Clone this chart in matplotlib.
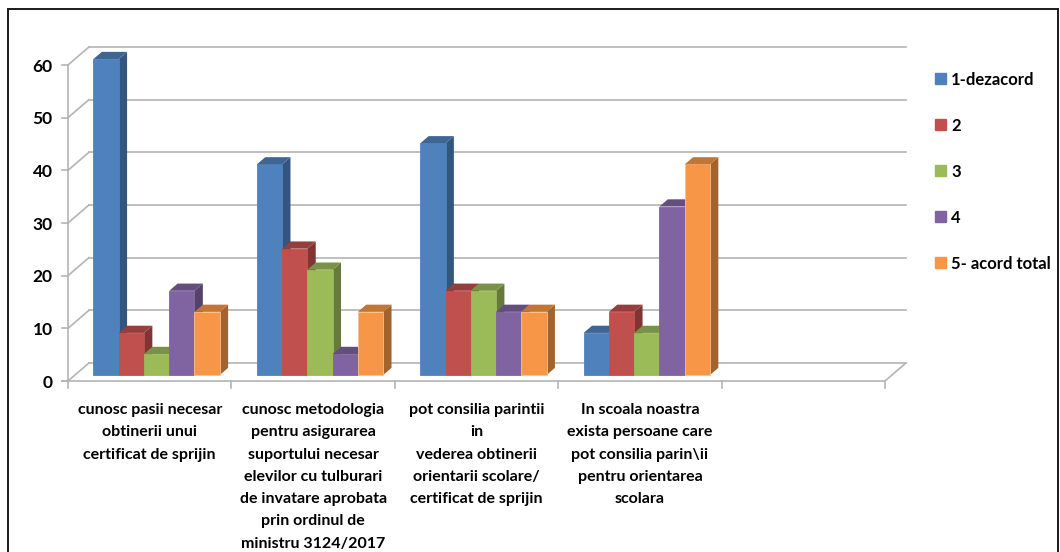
import numpy as np
import matplotlib
matplotlib.use("Agg")
import matplotlib.pyplot as plt
from matplotlib.patches import Polygon, Patch, Rectangle

# date
categorii = [
    "cunosc pasii necesar\nobtinerii unui\ncertificat de sprijin",
    "cunosc metodologia\npentru asigurarea\nsuportului necesar\nelevilor cu tulburari\nde invatare aprobata\nprin ordinul de\nministru 3124/2017",
    "pot consilia parintii\nin\nvederea obtinerii\norientarii scolare/\ncertificat de sprijin",
    "In scoala noastra\nexista persoane care\npot consilia parin\\ii\npentru orientarea\nscolara",
]
serii = ["1-dezacord", "2", "3", "4", "5- acord total"]
dezacord = [60, 40, 44, 8]
val_2 = [8, 24, 16, 12]
val_3 = [4, 20, 16, 8]
val_4 = [16, 4, 12, 32]
acord_total = [12, 12, 12, 40]
valori = [dezacord, val_2, val_3, val_4, acord_total]
culori = ["#4F81BD", "#C0504D", "#9BBB59", "#8064A2", "#F79646"]

n_sloturi = 5          # excel lasa un slot gol la final
y_max = 60
DX, DY = 0.128, 3.42   # adancimea 3D in unitati de date
d0, d1 = 0.33, 0.73    # fata / spatele barelor
grid_col = "#b4b4b4"


def umbra(c, f):
    rgb = np.array(matplotlib.colors.to_rgb(c))
    return tuple(rgb * f)


fig = plt.figure(figsize=(10.6, 5.52), dpi=100)
fig.patch.set_facecolor("white")
fig.patches.append(Rectangle((8 / 1060, -0.02), 1050 / 1060, 1.02 - 9 / 552,
                             transform=fig.transFigure, fill=False,
                             edgecolor="#1a1a1a", linewidth=1.4))

ax = fig.add_axes([68 / 1060, 1 - 381 / 552, (885 - 68) / 1060, (381 - 65) / 552])
ax.set_xlim(0, n_sloturi)
ax.set_ylim(0, y_max)
for s in ax.spines.values():
    s.set_visible(False)

# pereti + podea
niveluri = np.arange(0, y_max + 1, 10)
for v in niveluri:
    ax.plot([DX, n_sloturi + DX], [v + DY, v + DY], color=grid_col, lw=1.2, clip_on=False, zorder=1)
    ax.plot([0, DX], [v, v + DY], color=grid_col, lw=1.2, clip_on=False, zorder=1)
    ax.plot([-0.035, 0], [v, v], color=grid_col, lw=1.2, clip_on=False, zorder=1)
ax.plot([0, 0], [0, y_max], color=grid_col, lw=1.2, clip_on=False, zorder=1)
ax.plot([-0.035, n_sloturi], [0, 0], color=grid_col, lw=1.2, clip_on=False, zorder=1)
ax.plot([n_sloturi, n_sloturi + DX], [0, DY], color=grid_col, lw=1.2, clip_on=False, zorder=1)
for i in range(n_sloturi + 1):
    ax.plot([i, i], [0, -1.3], color=grid_col, lw=1.2, clip_on=False, zorder=1)

# bare 3D
n_ser = len(serii)
latime = 0.1546
start = 0.5 - latime * n_ser / 2
for k in range(len(categorii)):
    for j in range(n_ser):
        h = valori[j][k]
        c = culori[j]
        x0 = k + start + j * latime
        ax.bar(x0 + d0 * DX, h, latime, bottom=d0 * DY, align="edge", color=c,
               edgecolor="#fbc18e" if j == 4 else c, linewidth=0.6, zorder=3 + k * 10 + j * 2,
               clip_on=False)
        xr = x0 + latime
        lat = [(xr + d0 * DX, d0 * DY), (xr + d1 * DX, d1 * DY),
               (xr + d1 * DX, h + d1 * DY), (xr + d0 * DX, h + d0 * DY)]
        sus = [(x0 + d0 * DX, h + d0 * DY), (xr + d0 * DX, h + d0 * DY),
               (xr + d1 * DX, h + d1 * DY), (x0 + d1 * DX, h + d1 * DY)]
        ax.add_patch(Polygon(lat, closed=True, facecolor=umbra(c, 0.66), edgecolor="none",
                             zorder=2 + k * 10 + j * 2, clip_on=False))
        ax.add_patch(Polygon(sus, closed=True, facecolor=umbra(c, 0.78), edgecolor="none",
                             zorder=3 + k * 10 + j * 2, clip_on=False))

# axe
ax.set_yticks(niveluri)
ax.set_yticklabels([str(v) for v in niveluri], fontsize=12.5, fontweight="bold", family="Lato")
ax.tick_params(axis="y", length=0, pad=11)
ax.set_xticks([k + 0.5 for k in range(len(categorii))])
ax.set_xticklabels(categorii, fontsize=11.5, fontweight="bold", family="Lato", linespacing=1.75)
ax.tick_params(axis="x", length=0, pad=16)

handles = [Patch(facecolor=c, edgecolor=c) for c in culori]
fig.legend(handles, serii, loc="upper left", bbox_to_anchor=(928 / 1060, 1 - 65 / 552),
           frameon=False, prop={"family": "Lato", "weight": "bold", "size": 12},
           handlelength=0.65, handleheight=0.65, handletextpad=0.35, labelspacing=1.8,
           borderaxespad=0)

fig.savefig("out.png", dpi=100)
